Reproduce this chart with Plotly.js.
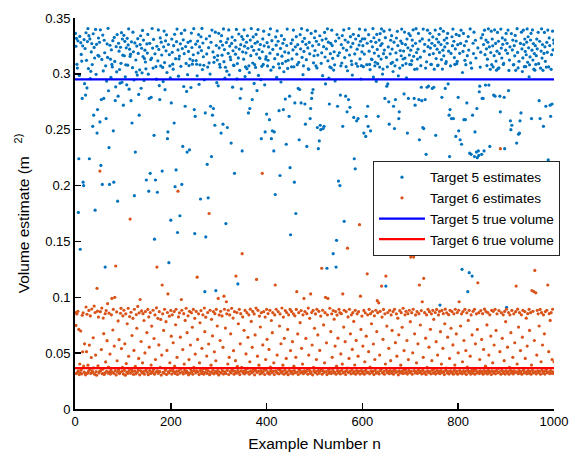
<!DOCTYPE html>
<html>
<head>
<meta charset="utf-8">
<script src="https://cdn.plot.ly/plotly-3.0.1.min.js"></script>
<style>html,body{margin:0;padding:0;background:#fff;}#chart{width:574px;height:452px;}</style>
</head>
<body>
<div id="chart"></div>
<script>
// Target 5 volume estimates, example n = 1..1000
const est5 = [
0.3362,0.3247,0.3318,0.3085,0.3052,0.3296,0.176,0.224,0.2986,0.3335, 0.143,0.3279,0.3174,0.3114,0.278,0.3251,0.203,0.200,0.3307,0.2912,
0.3226,0.281,0.3368,0.3121,0.2874,0.3289,0.3405,0.3047,0.3342,0.224, 0.3313,0.2958,0.3023,0.3196,0.3271,0.3083,0.253,0.3359,0.263,0.3237,
0.3142,0.178,0.3398,0.2996,0.3264,0.247,0.268,0.3166,0.3321,0.3158,
0.3283,0.257,0.3394,0.218,0.277,0.3129,0.201,0.3347,0.3026,0.278, 0.3301,0.3189,0.127,0.3072,0.260,0.2935,0.3268,0.3147,0.3408,0.2849,
0.234,0.201,0.3256,0.3131,0.2968,0.3215,0.3084,0.3062,0.3297,0.249, 0.203,0.3326,0.3111,0.2761,0.2884,0.3243,0.3018,0.3352,0.186,0.280,
0.3274,0.3203,0.3039,0.2917,0.3238,0.3094,0.3369,0.2925,0.3312,0.3167,
0.272,0.3345,0.3162,0.3291,0.2973,0.3081,0.3233,0.2902,0.3318,0.3078, 0.3259,0.3403,0.2863,0.3221,0.3156,0.3176,0.276,0.3287,0.256,0.3055,
0.3373,0.3198,0.2945,0.191,0.3277,0.230,0.3124,0.3016,0.3249,0.2989, 0.3315,0.3183,0.2816,0.263,0.3036,0.3262,0.3341,0.2871,0.3229,0.3009,
0.3389,0.3155,0.3302,0.2941,0.3137,0.3212,0.3106,0.3045,0.205,0.3268,
0.3186,0.3353,0.2997,0.195,0.278,0.3273,0.211,0.3128,0.279,0.3141, 0.3406,0.3231,0.3052,0.3308,0.245,0.152,0.3179,0.205,0.3064,0.2952,
0.3247,0.194,0.3117,0.3393,0.3219,0.2895,0.277,0.3322,0.3071,0.3284, 0.3169,0.213,0.3058,0.2931,0.3242,0.3383,0.3101,0.2858,0.3296,0.3206,
0.3349,0.3012,0.242,0.248,0.3263,0.131,0.3172,0.3071,0.2964,0.169,
0.274,0.3311,0.3193,0.3087,0.3042,0.3252,0.256,0.3354,0.199,0.3136, 0.214,0.3288,0.3401,0.158,0.3214,0.2979,0.3134,0.3159,0.173,0.3269,
0.3067,0.3362,0.201,0.3226,0.235,0.3305,0.2887,0.3181,0.3391,0.271, 0.3244,0.3093,0.2843,0.230,0.2993,0.3282,0.3201,0.3074,0.232,0.3133,
0.3294,0.2878,0.3365,0.3236,0.3087,0.3119,0.3171,0.3404,0.268,0.157,
0.262,0.3266,0.3119,0.3086,0.2983,0.3293,0.3187,0.3352,0.2906,0.3241, 0.3081,0.188,0.3332,0.3208,0.3407,0.3039,0.3276,0.3153,0.3077,0.2947,
0.105,0.265,0.154,0.3314,0.3178,0.219,0.3061,0.189,0.3234,0.3098, 0.3339,0.2998,0.271,0.3283,0.226,0.3392,0.263,0.3196,0.269,0.3103,
0.3148,0.254,0.3373,0.106,0.3254,0.2921,0.3124,0.3164,0.2893,0.3363,
0.3232,0.3084,0.3059,0.3291,0.247,0.3342,0.3167,0.3258,0.255,0.3402, 0.3109,0.3217,0.2962,0.3059,0.166,0.3281,0.3024,0.252,0.3313,0.3184,
0.3393,0.2991,0.3249,0.3151,0.3127,0.238,0.3272,0.3329,0.2881,0.3207, 0.3078,0.3074,0.211,0.3301,0.3176,0.3239,0.3398,0.2955,0.3092,0.112,
0.3143,0.3357,0.3222,0.3031,0.2781,0.3261,0.2866,0.3334,0.231,0.3197,
0.3309,0.3131,0.3394,0.3248,0.2976,0.3062,0.3188,0.3283,0.3046,0.3341, 0.3229,0.265,0.3072,0.3012,0.269,0.3302,0.3163,0.3405,0.3243,0.277,
0.3097,0.3331,0.3211,0.2914,0.3083,0.3274,0.3058,0.3353,0.3177,0.285, 0.3287,0.3396,0.2986,0.3218,0.3144,0.3139,0.3262,0.2948,0.242,0.3067,
0.3198,0.3313,0.3084,0.3382,0.3251,0.2902,0.248,0.3132,0.3154,0.264,
0.3279,0.3071,0.3122,0.3241,0.3352,0.259,0.3185,0.3403,0.3033,0.242, 0.3297,0.249,0.3219,0.3061,0.231,0.248,0.3136,0.192,0.3331,0.3257,
0.2968,0.3384,0.3174,0.3292,0.3089,0.267,0.3054,0.209,0.3228,0.2927, 0.3342,0.3158,0.3093,0.3273,0.268,0.3019,0.3308,0.3196,0.2774,0.3112,
0.237,0.3254,0.3401,0.3049,0.3122,0.3187,0.262,0.280,0.216,0.156,
0.3272,0.3063,0.3134,0.3304,0.3214,0.3392,0.3063,0.203,0.274,0.3242, 0.175,0.3333,0.3176,0.3082,0.3261,0.287,0.3103,0.241,0.286,0.3351,
0.3223,0.274,0.3404,0.3148,0.3289,0.2993,0.3072,0.3201,0.3318,0.273, 0.255,0.3264,0.3127,0.235,0.3391,0.3232,0.3044,0.3041,0.3281,0.3179,
0.260,0.269,0.3362,0.278,0.283,0.3251,0.286,0.3099,0.3162,0.3323,
0.3209,0.3382,0.3072,0.3292,0.3053,0.252,0.3168,0.233,0.3263,0.240, 0.3341,0.254,0.250,0.3094,0.3188,0.3302,0.2984,0.251,0.3243,0.253,
0.3371,0.3151,0.291,0.3314,0.3224,0.126,0.3403,0.3117,0.3284,0.2961, 0.273,0.3062,0.3181,0.3272,0.3054,0.3391,0.3253,0.3139,0.139,0.3034,
0.3198,0.3081,0.2937,0.3293,0.127,0.151,0.3352,0.271,0.3164,0.204,
0.3321,0.3189,0.200,0.281,0.3072,0.3262,0.3097,0.3343,0.253,0.3231, 0.3393,0.168,0.3146,0.3303,0.280,0.3064,0.3212,0.266,0.3028,0.3284,
0.277,0.3406,0.3169,0.270,0.3333,0.3241,0.3115,0.3083,0.2989,0.3272, 0.3354,0.261,0.224,0.3178,0.215,0.3312,0.3092,0.258,0.3221,0.3068,
0.260,0.3342,0.3258,0.3401,0.3134,0.3292,0.2954,0.3073,0.3197,0.3313,
0.3252,0.3064,0.247,0.3177,0.3314,0.3393,0.244,0.262,0.3082,0.3274, 0.271,0.253,0.3351,0.3203,0.3084,0.3037,0.249,0.3291,0.3132,0.3128,
0.3242,0.3405,0.2971,0.3323,0.3186,0.3072,0.3104,0.3282,0.2933,0.3353, 0.3219,0.3091,0.262,0.3159,0.3302,0.3061,0.3361,0.3254,0.3132,0.3402,
0.3271,0.2998,0.3043,0.3181,0.3382,0.3213,0.278,0.3324,0.110,0.3147,
0.289,0.3063,0.291,0.3241,0.275,0.255,0.3394,0.3179,0.3301,0.3093, 0.3342,0.3222,0.3103,0.3021,0.271,0.3284,0.251,0.3072,0.277,0.3188,
0.3321,0.3126,0.3381,0.3253,0.2982,0.260,0.266,0.3052,0.3208,0.3293, 0.3162,0.3401,0.3272,0.3076,0.3133,0.3204,0.282,0.3374,0.3141,0.3262,
0.3092,0.2965,0.3312,0.247,0.3233,0.278,0.3361,0.3169,0.3084,0.3343,
0.3212,0.3083,0.3118,0.3302,0.3251,0.3394,0.3157,0.278,0.3041,0.272, 0.3273,0.3404,0.3191,0.3044,0.3132,0.3221,0.3362,0.277,0.241,0.3293,
0.3149,0.3073,0.288,0.276,0.3313,0.252,0.3401,0.251,0.3203,0.3264, 0.277,0.3052,0.228,0.3108,0.288,0.3391,0.3243,0.289,0.3302,0.3172,
0.3363,0.3231,0.3086,0.3084,0.3274,0.287,0.3331,0.3182,0.288,0.3042,
0.3253,0.3392,0.245,0.3137,0.3312,0.3221,0.3073,0.3079,0.3284,0.3354, 0.3192,0.093,0.3405,0.3262,0.3128,0.279,0.3043,0.3212,0.3382,0.3161,
0.3302,0.3241,0.287,0.3093,0.3109,0.3321,0.3274,0.3362,0.291,0.3203, 0.263,0.226,0.268,0.3071,0.3183,0.260,0.3332,0.3252,0.3401,0.260,
0.3292,0.3146,0.3084,0.3223,0.244,0.3353,0.3091,0.3112,0.3261,0.279,
0.249,0.3343,0.3184,0.241,0.3272,0.3391,0.237,0.125,0.3012,0.3201, 0.3362,0.259,0.3253,0.3121,0.259,0.3082,0.3292,0.274,0.3163,0.105,
0.3334,0.3213,0.122,0.229,0.3402,0.3098,0.228,0.3051,0.119,0.263, 0.3274,0.3182,0.3373,0.226,0.248,0.3301,0.3142,0.230,0.269,0.225,
0.3232,0.231,0.227,0.284,0.289,0.3061,0.3194,0.3322,0.228,0.278,
0.3352,0.278,0.3263,0.231,0.3391,0.3172,0.290,0.3302,0.3224,0.3074, 0.3131,0.3283,0.3403,0.290,0.3242,0.235,0.3041,0.3191,0.3382,0.3082,
0.3312,0.3251,0.3062,0.281,0.3163,0.3394,0.280,0.3272,0.3114,0.3033, 0.3203,0.3371,0.3046,0.3292,0.3053,0.3182,0.280,0.266,0.3401,0.3231,
0.3142,0.3322,0.3264,0.3084,0.3093,0.279,0.233,0.3304,0.3212,0.3362,
0.091,0.3273,0.3184,0.3392,0.285,0.3031,0.3123,0.3242,0.258,0.250, 0.3361,0.254,0.3214,0.3302,0.3081,0.3083,0.3252,0.3161,0.3344,0.3032,
0.3294,0.238,0.3404,0.3192,0.3053,0.246,0.3112,0.247,0.258,0.3272, 0.265,0.3373,0.3223,0.3021,0.3143,0.3391,0.3262,0.3064,0.3312,0.3201,
0.3064,0.3171,0.3284,0.3402,0.3104,0.3332,0.3233,0.2974,0.3081,0.3152,
0.3303,0.3362,0.260,0.3212,0.3393,0.3124,0.3271,0.3042,0.3182,0.3033, 0.3252,0.3084,0.3163,0.3311,0.3224,0.152,0.3372,0.3091,0.276,0.3292,
0.260,0.3051,0.3204,0.3403,0.3141,0.3262,0.3032,0.253,0.3183,0.3371, 0.3242,0.3112,0.271,0.3061,0.3282,0.3193,0.3392,0.223,0.3062,0.3322,
0.3253,0.272,0.262,0.3041,0.3172,0.273,0.3382,0.3214,0.3302,0.3273
];

// Target 6 volume estimates, example n = 1..1000
const est6 = [
0.0862,0.0748,0.0317,0.0851,0.0329,0.0874,0.0342,0.0712,0.0308,0.0403, 0.0326,0.0698,0.0351,0.0315,0.0839,0.0512,0.0861,0.0384,0.0331,0.0583,
0.0322,0.0306,0.0913,0.0513,0.0848,0.0319,0.0392,0.0336,0.0882,0.0572, 0.0354,0.0833,0.0318,0.0461,0.0895,0.0341,0.0327,0.0638,0.0369,0.0921,
0.0312,0.0864,0.0483,0.0334,0.0302,0.108,0.0876,0.0387,0.0823,0.0323,
0.0335,0.213,0.0871,0.0345,0.0532,0.0903,0.0316,0.0356,0.0814,0.0674, 0.0309,0.0324,0.0853,0.0421,0.0881,0.0338,0.0612,0.0943,0.0321,0.0376,
0.0858,0.0332,0.0492,0.0313,0.0347,0.0843,0.099,0.0328,0.0707,0.0892, 0.0319,0.0563,0.100,0.0343,0.128,0.0305,0.0869,0.0432,0.0331,0.0788,
0.0352,0.0621,0.0317,0.0326,0.0857,0.0901,0.0541,0.0339,0.0372,0.0834,
0.0314,0.0884,0.0346,0.0583,0.0303,0.0852,0.0407,0.0331,0.0763,0.0318, 0.0902,0.0472,0.0343,0.0827,0.170,0.0321,0.0866,0.0353,0.0658,0.0336,
0.0812,0.0309,0.0524,0.0893,0.0339,0.0382,0.0315,0.0845,0.0723,0.0327, 0.0918,0.0348,0.0453,0.0861,0.0306,0.098,0.0342,0.0604,0.0879,0.0323,
0.0413,0.0853,0.0334,0.0792,0.0311,0.0502,0.0872,0.0345,0.0362,0.0684,
0.0329,0.0891,0.0307,0.0824,0.0553,0.0344,0.0863,0.0318,0.0393,0.0742, 0.0325,0.0337,0.0884,0.0354,0.0631,0.0312,0.0842,0.0443,0.0331,0.0906,
0.127,0.0341,0.0812,0.0319,0.0574,0.0871,0.0334,0.0372,0.0802,0.0304, 0.0483,0.111,0.0852,0.0328,0.0703,0.0321,0.0893,0.0364,0.0346,0.0782,
0.0309,0.0524,0.0864,0.103,0.0332,0.0323,0.0831,0.0414,0.0343,0.0882,
0.0652,0.0313,0.0843,0.0347,0.0593,0.0332,0.0872,0.0383,0.0317,0.0754, 0.0893,0.0336,0.0463,0.0309,0.195,0.0824,0.0342,0.0861,0.0322,0.0643,
0.0357,0.098,0.0884,0.0331,0.0532,0.0314,0.0853,0.0402,0.0345,0.0793, 0.0323,0.0902,0.0339,0.0683,0.0328,0.0834,0.0306,0.0442,0.0874,0.0321,
0.0573,0.0352,0.0862,0.0334,0.0732,0.0311,0.0891,0.0373,0.0343,0.0812,
0.0492,0.0324,0.0873,0.0341,0.118,0.0623,0.0332,0.0852,0.0308,0.0413, 0.0772,0.0345,0.0881,0.0319,0.0543,0.0336,0.0843,0.0363,0.0312,0.0904,
0.0692,0.0329,0.0822,0.0354,0.0474,0.0318,0.0863,0.0342,0.0582,0.175, 0.0307,0.0884,0.0331,0.0392,0.0803,0.0323,0.0654,0.0347,0.0872,0.0315,
0.0512,0.0853,0.0334,0.0432,0.0892,0.0321,0.0743,0.0344,0.099,0.0305,
0.0842,0.0331,0.0613,0.0874,0.0322,0.0364,0.0833,0.0341,0.0552,0.0313, 0.101,0.0893,0.0332,0.0724,0.0318,0.096,0.0852,0.0346,0.0403,0.0884,
0.0309,0.0463,0.0842,0.0335,0.0673,0.0324,0.0901,0.0353,0.0343,0.0814, 0.0522,0.0312,0.0871,0.0337,0.0433,0.119,0.0321,0.0863,0.0382,0.0344,
0.0763,0.0329,0.0892,0.0308,0.0583,0.0853,0.0341,0.0372,0.139,0.0824,
0.0323,0.0336,0.0704,0.0315,0.0882,0.0347,0.0493,0.0326,0.0862,0.0363, 0.0642,0.0331,0.0843,0.0311,0.0423,0.0894,0.0342,0.0784,0.0324,0.0552,
0.0873,0.0333,0.0352,0.0851,0.0306,0.0663,0.0345,0.0903,0.116,0.0327, 0.0473,0.0883,0.0338,0.0392,0.0832,0.0314,0.0734,0.0343,0.0862,0.0321,
0.211,0.0574,0.0334,0.0871,0.0356,0.0309,0.0823,0.0443,0.0347,0.0892,
0.0624,0.0322,0.0854,0.0331,0.0533,0.0312,0.0883,0.0374,0.0345,0.0792, 0.0326,0.0683,0.0862,0.0336,0.0413,0.0308,0.0842,0.111,0.0341,0.0893,
0.0328,0.0483,0.0319,0.0872,0.0353,0.0315,0.0743,0.0851,0.0343,0.0584, 0.0324,0.0904,0.0335,0.0392,0.0823,0.0311,0.0633,0.0347,0.0881,0.0322,
0.0453,0.0864,0.0333,0.0712,0.0307,0.0843,0.0364,0.0342,0.0892,0.0523,
0.0321,0.0873,0.0336,0.0603,0.0314,0.0852,0.0383,0.0344,0.0834,0.0325, 0.0463,0.0891,0.105,0.0331,0.0672,0.0309,0.0862,0.0352,0.0346,0.0773,
0.0323,0.0881,0.0543,0.0334,0.0402,0.0843,0.0316,0.099,0.0341,0.0872, 0.0328,0.0632,0.0337,0.0853,0.0362,0.0312,0.0903,0.0483,0.0345,0.0812,
0.0319,0.103,0.0332,0.0864,0.0573,0.0306,0.0882,0.0373,0.0343,0.0723,
0.0326,0.0851,0.0335,0.0443,0.0893,0.0313,0.0663,0.0344,0.0874,0.0322, 0.0524,0.0338,0.0832,0.0354,0.126,0.0311,0.0884,0.0342,0.0753,0.0327,
0.0413,0.0862,0.100,0.0334,0.0592,0.0308,0.0843,0.099,0.0345,0.0321, 0.0363,0.0902,0.0333,0.0693,0.0317,0.0852,0.0463,0.0346,0.0881,0.0324,
0.0804,0.0331,0.0563,0.0872,0.0312,0.0383,0.0841,0.0343,0.0634,0.0325,
0.0892,0.0336,0.0862,0.0314,0.0493,0.0853,0.0345,0.0402,0.103,0.0323, 0.0733,0.0884,0.0332,0.0603,0.0309,0.0872,0.0341,0.0365,0.144,0.0824,
0.0327,0.0453,0.0893,0.0336,0.0673,0.0315,0.0843,0.0347,0.0533,0.0862, 0.0321,0.0784,0.0334,0.0394,0.0883,0.0311,0.0614,0.0344,0.0852,0.0326,
0.0473,0.0871,0.0338,0.165,0.0313,0.101,0.0712,0.0343,0.0832,0.0322,
0.0563,0.0335,0.0882,0.0312,0.0423,0.0861,0.0346,0.0652,0.0324,0.121, 0.0843,0.0331,0.0513,0.0892,0.0315,0.0374,0.0853,0.0342,0.0763,0.0326,
0.0872,0.0337,0.0582,0.0308,0.0834,0.0443,0.0345,0.0884,0.0321,0.0693, 0.097,0.0862,0.0333,0.095,0.0314,0.0483,0.0874,0.0344,0.0356,0.110,
0.0823,0.0323,0.0624,0.0891,0.0336,0.0311,0.0852,0.0403,0.119,0.0347,
0.0742,0.0325,0.0864,0.0334,0.0543,0.0316,0.0883,0.0343,0.0433,0.0842, 0.0322,0.0703,0.0337,0.0872,0.0312,0.0362,0.0893,0.0345,0.0594,0.0328,
0.0852,0.0473,0.0333,0.0813,0.0306,0.0664,0.0342,0.0881,0.0324,0.0392, 0.0862,0.0335,0.0732,0.0317,0.0902,0.0346,0.0523,0.0321,0.0843,0.0354,
0.0874,0.0331,0.0613,0.0313,0.0853,0.0442,0.0344,0.0884,0.0326,0.0782,
0.136,0.0336,0.0862,0.0311,0.0503,0.0893,0.136,0.0343,0.0673,0.0323, 0.0842,0.0334,0.0413,0.0872,0.0318,0.0583,0.0346,0.0853,0.111,0.0327,
0.0752,0.0338,0.0881,0.0314,0.096,0.0345,0.0463,0.117,0.0322,0.0862, 0.0333,0.0634,0.0309,0.0843,0.0373,0.0341,0.0892,0.0326,0.0553,0.0871,
0.0335,0.0713,0.0315,0.0852,0.0433,0.0347,0.0883,0.0321,0.0803,0.0362,
0.0332,0.0864,0.0313,0.0603,0.0891,0.0344,0.0483,0.0324,0.0842,0.0337, 0.0873,0.0316,0.0692,0.0343,0.0402,0.0882,0.0327,0.0543,0.0853,0.0334,
0.0308,0.0763,0.0894,0.0346,0.0365,0.0861,0.0322,0.0643,0.0335,0.0844, 0.0314,0.0453,0.0883,0.0342,0.0723,0.0325,0.0872,0.0331,0.0574,0.0311,
0.0852,0.0345,0.0393,0.0893,0.0323,0.0672,0.0336,0.0863,0.0312,0.0503,
0.0884,0.096,0.0343,0.0324,0.0743,0.0333,0.0852,0.0315,0.0423,0.0872, 0.0341,0.0613,0.0322,0.0892,0.0336,0.0523,0.0309,0.0861,0.0374,0.0345,
0.0793,0.0326,0.0883,0.0334,0.0473,0.0313,0.0842,0.0343,0.0663,0.0321, 0.0874,0.0337,0.0355,0.0893,0.0311,0.0583,0.0346,0.0852,0.0324,0.0712,
0.113,0.0332,0.0862,0.0317,0.0443,0.0342,0.0881,0.0325,0.0623,0.0335,
0.0853,0.0312,0.0533,0.0344,0.0894,0.0323,0.0383,0.0872,0.0336,0.0753, 0.0314,0.0862,0.0345,0.0483,0.0326,0.0843,0.0334,0.0653,0.0309,0.0883,
0.0341,0.0413,0.0874,0.0322,0.0573,0.0337,0.0892,0.0315,0.0703,0.0343, 0.0852,0.140,0.0324,0.0364,0.0881,0.0333,0.0513,0.233,0.0311,0.0862,
0.0346,0.0633,0.0321,0.0843,0.0335,0.0433,0.0873,0.0313,0.0782,0.0342,
0.0893,0.0325,0.0553,0.0334,0.0864,0.0312,0.0373,0.0843,0.0345,0.0683, 0.0323,0.0882,0.0336,0.0463,0.0314,0.0852,0.0341,0.0593,0.0327,0.0871,
0.110,0.0332,0.0403,0.0894,0.0316,0.0733,0.0344,0.0862,0.0322,0.0523, 0.0335,0.0843,0.0311,0.0643,0.0883,0.0346,0.0363,0.0324,0.0872,0.0453,
0.0333,0.0813,0.0315,0.0563,0.0853,0.0343,0.0321,0.0892,0.0703,0.0336,
0.0862,0.0312,0.0393,0.106,0.0345,0.0874,0.0323,0.105,0.0613,0.124, 0.0334,0.104,0.0314,0.0483,0.0883,0.0342,0.0852,0.0326,0.0743,0.0337,
0.0891,0.0311,0.0423,0.0862,0.0346,0.0573,0.0322,0.0843,0.0335,0.0673, 0.0313,0.0872,0.0344,0.0356,0.0884,0.0325,0.111,0.0333,0.0513,0.0853,
0.0316,0.0793,0.0343,0.0862,0.0321,0.0443,0.0893,0.0332,0.0318,0.0423
];

const trueVolume5 = 0.295;
const trueVolume6 = 0.0365;
const nRange = [0, 1000];
const xTicks = [0, 200, 400, 600, 800, 1000];
const yTicks = [0, 0.05, 0.1, 0.15, 0.2, 0.25, 0.3, 0.35];
const yTickLabels = ['0', '0.05', '0.1', '0.15', '0.2', '0.25', '0.3', '0.35'];
const seriesNames = ['Target 5 estimates', 'Target 6 estimates', 'Target 5 true volume', 'Target 6 true volume'];

const n5 = est5.map((_, i) => i + 1);
const n6 = est6.map((_, i) => i + 1);

const FONT = "'Liberation Sans', Arial, Helvetica, sans-serif";

const traces = [
  {x: n5, y: est5, type: 'scatter', mode: 'markers', name: seriesNames[0],
   marker: {color: '#0072BD', size: 3.2, line: {width: 0}}},
  {x: n6, y: est6, type: 'scatter', mode: 'markers', name: seriesNames[1],
   marker: {color: '#D95319', size: 3.2, line: {width: 0}}},
  {x: nRange, y: [trueVolume5, trueVolume5], type: 'scatter', mode: 'lines', name: seriesNames[2],
   line: {color: '#0000FF', width: 2.2}},
  {x: nRange, y: [trueVolume6, trueVolume6], type: 'scatter', mode: 'lines', name: seriesNames[3],
   line: {color: '#FF0000', width: 2.2}}
];

const NB = '\u00a0';
const layout = {
  width: 574, height: 452,
  margin: {l: 75, r: 20, t: 18, b: 42.5, pad: 0},
  paper_bgcolor: '#ffffff', plot_bgcolor: '#ffffff',
  font: {family: FONT, size: 13, color: '#000000'},
  showlegend: true,
  legend: {
    x: 1.0125, xanchor: 'right', y: 0.6347, yanchor: 'top',
    bgcolor: '#ffffff', bordercolor: '#262626', borderwidth: 1,
    font: {family: FONT, size: 13.6, color: '#000000'},
    itemwidth: 46, tracegroupgap: 0
  },
  xaxis: {
    range: [0, 1000], tickvals: xTicks, ticktext: xTicks.map(String),
    ticks: 'inside', ticklen: 6, tickwidth: 1.5, tickcolor: '#000',
    showline: true, linecolor: '#000', linewidth: 1.8, mirror: false,
    showgrid: false, zeroline: false,
    tickfont: {family: FONT, size: 13, color: '#000'},
    title: {text: 'Example Number n', font: {family: FONT, size: 15.5, color: '#000'}, standoff: 11}
  },
  yaxis: {
    range: [0, 0.35], tickvals: yTicks, ticktext: yTickLabels,
    ticks: 'inside', ticklen: 6, tickwidth: 1.5, tickcolor: '#000',
    showline: true, linecolor: '#000', linewidth: 1.8, mirror: false,
    showgrid: false, zeroline: false,
    tickfont: {family: FONT, size: 13, color: '#000'},
    title: {text: 'Volume estimate (m' + NB + NB + NB + '<sup>2)</sup>', font: {family: FONT, size: 15.5, color: '#000'}, standoff: 12}
  }
};

Plotly.newPlot('chart', traces, layout, {staticPlot: true, displayModeBar: false});
</script>
</body>
</html>
